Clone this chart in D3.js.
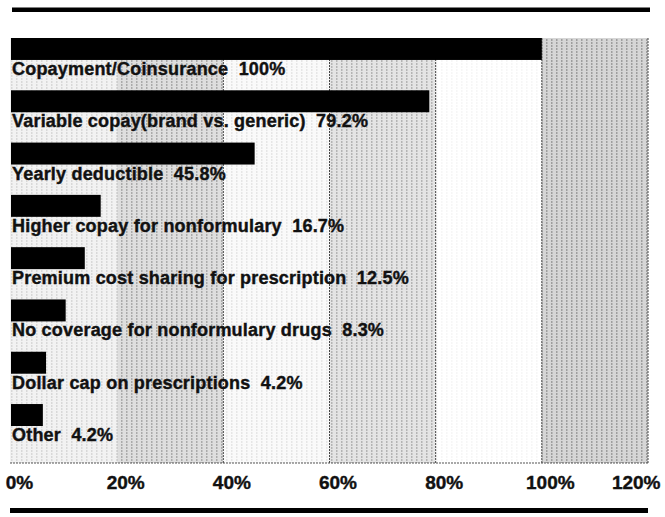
<html>
<script src="https://d3js.org/d3.v7.min.js"></script>
<style>
  body { margin: 0; background: #fff; }
  text { font-family: "Liberation Sans", Arial, sans-serif; font-weight: bold; fill: #111; stroke: #111; stroke-width: 0.4px; }
  .lbl { font-size: 18px; letter-spacing: 0.2px; white-space: pre; }
  .tick text { font-size: 19px; }
</style>
<body onload="init()">
<svg width="665" height="517"></svg>
<script>
// categories and their reported values (percent)
var categories = [
  "Copayment/Coinsurance",
  "Variable copay(brand vs. generic)",
  "Yearly deductible",
  "Higher copay for nonformulary",
  "Premium cost sharing for prescription",
  "No coverage for nonformulary drugs",
  "Dollar cap on prescriptions",
  "Other"
];
var values = [100, 79.2, 45.8, 16.7, 12.5, 8.3, 4.2, 4.2];
// bar extents as drawn in the original (short bars were drawn a bit long)
var barValues = [100, 78.8, 45.9, 16.9, 13.9, 10.3, 6.6, 6.0];
var tickValues = [0, 20, 40, 60, 80, 100, 120];

function init() {
  var svg = d3.select("svg");

  // scales
  var x = d3.scaleLinear().domain([0, 120]).range([11, 648]);
  var y = d3.scaleBand().domain(categories).range([38, 426]).paddingInner(0.58).paddingOuter(0);

  var top = 38, bottom = 463;

  // halftone-like striped fills, one per 20% band
  var shades = [["#f2f2f2", "#d8d8d8"], ["#dedede", "#aaaaaa"], ["#fafafa", "#e6e6e6"],
                ["#e4e4e4", "#b4b4b4"], ["#ffffff", "#f6f6f6"], ["#d6d6d6", "#9e9e9e"]];
  var defs = svg.append("defs");
  shades.forEach(function(s, i) {
    var p = defs.append("pattern").attr("id", "band" + i).attr("patternUnits", "userSpaceOnUse")
      .attr("width", 5).attr("height", 3);
    p.append("rect").attr("width", 5).attr("height", 3).attr("fill", s[0]);
    p.append("rect").attr("x", 1).attr("width", 1.5).attr("height", 2).attr("fill", s[1]);
  });

  svg.append("g").selectAll("rect").data(d3.pairs(tickValues)).enter().append("rect")
    .attr("x", function(d) { return x(d[0]) - (d[0] == 0 ? 1 : 0); })
    .attr("y", top)
    .attr("width", function(d) { return x(d[1]) - x(d[0]) + (d[0] == 0 ? 1 : 0); })
    .attr("height", bottom - top)
    .attr("fill", function(d, i) { return "url(#band" + i + ")"; });

  // band edges
  svg.append("g").selectAll("line").data(tickValues.slice(2)).enter().append("line")
    .attr("x1", function(d) { return x(d); }).attr("x2", function(d) { return x(d); })
    .attr("y1", top).attr("y2", bottom)
    .attr("stroke", "#444").attr("stroke-width", 1).attr("stroke-dasharray", "2,1");
  svg.append("line")
    .attr("x1", x(0) - 1).attr("x2", x(120)).attr("y1", bottom).attr("y2", bottom)
    .attr("stroke", "#555").attr("stroke-width", 1).attr("stroke-dasharray", "2,1");

  // bars
  svg.append("g").selectAll("rect").data(categories).enter().append("rect")
    .attr("x", x(0))
    .attr("y", function(d) { return y(d); })
    .attr("width", function(d, i) { return x(barValues[i]) - x(0); })
    .attr("height", y.bandwidth())
    .attr("fill", "#000");

  // labels under each bar
  svg.append("g").selectAll("text").data(categories).enter().append("text")
    .attr("class", "lbl")
    .attr("x", 12)
    .attr("y", function(d) { return y(d) + y.bandwidth() + 15; })
    .text(function(d, i) { return d + "  " + values[i] + "%"; });

  // x axis
  var ax = svg.append("g").attr("transform", "translate(0," + bottom + ")")
    .call(d3.axisBottom(x).tickValues(tickValues).tickSize(0).tickFormat(function(d) { return d + "%"; }));
  ax.select(".domain").remove();
  ax.selectAll("text").attr("y", 26).attr("dy", 0).attr("x", 8).attr("fill", "#111");
  ax.selectAll(".tick").filter(function(d) { return d == 120; }).select("text")
    .attr("text-anchor", "end").attr("x", 12);

  // top and bottom rules
  svg.append("rect").attr("x", 12).attr("y", 7.5).attr("width", 638).attr("height", 4.5).attr("fill", "#000");
  svg.append("rect").attr("x", 10).attr("y", 508).attr("width", 638).attr("height", 5).attr("fill", "#000");
}
</script>
</body>
</html>
